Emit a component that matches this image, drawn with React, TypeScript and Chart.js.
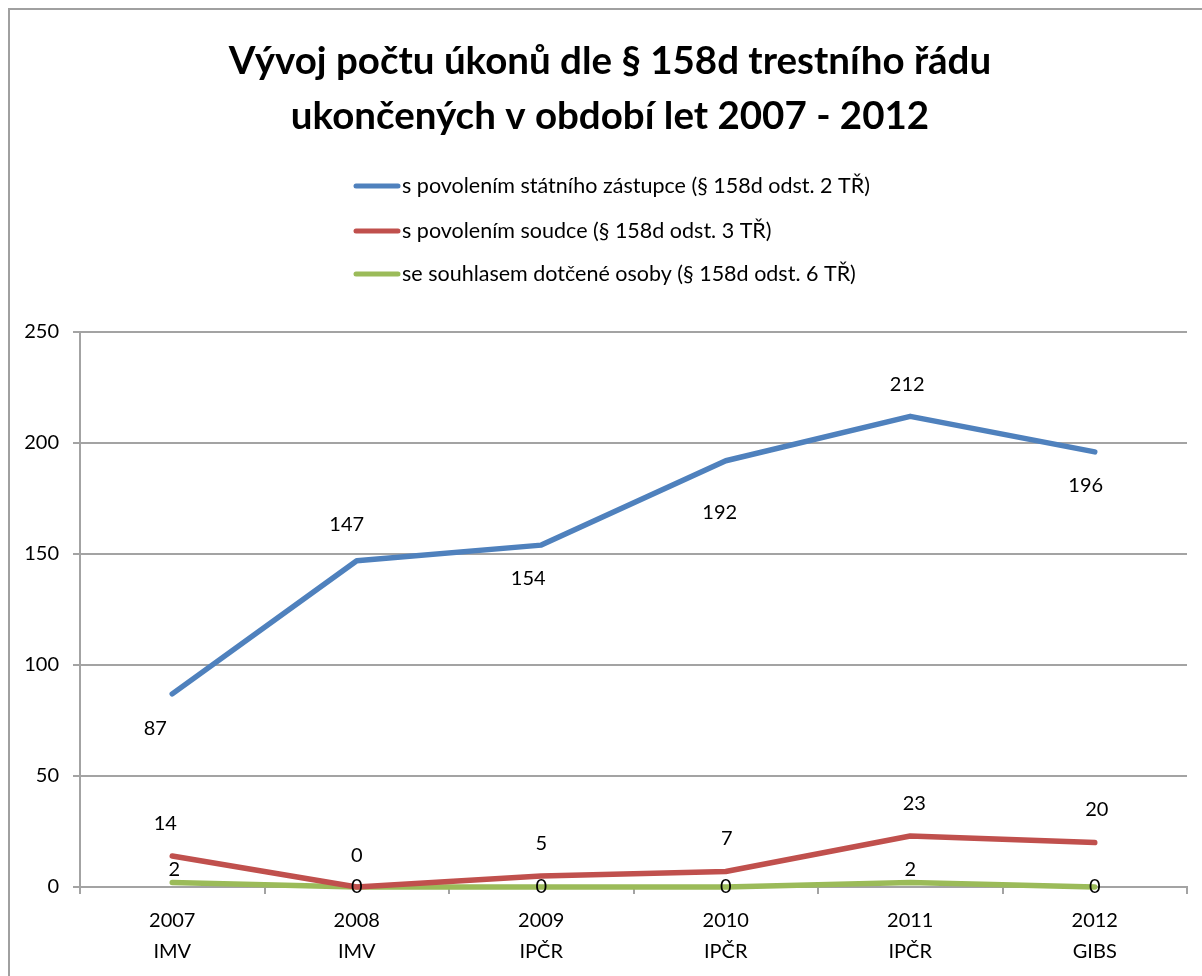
import { useEffect, useRef } from 'react';
import { Chart, registerables } from 'chart.js';

Chart.register(...registerables);

// ---- data ----
const years = ['2007', '2008', '2009', '2010', '2011', '2012'];
const units = ['IMV', 'IMV', 'IPČR', 'IPČR', 'IPČR', 'GIBS'];
const zastupce = [87, 147, 154, 192, 212, 196];
const soudce = [14, 0, 5, 7, 23, 20];
const souhlas = [2, 0, 0, 0, 2, 0];
const seriesNames = [
  's povolením státního zástupce (§ 158d odst. 2 TŘ)',
  's povolením soudce (§ 158d odst. 3 TŘ)',
  'se souhlasem dotčené osoby (§ 158d odst. 6 TŘ)',
];
const titleLines = ['Vývoj počtu úkonů dle § 158d trestního řádu', 'ukončených v období let 2007 - 2012'];
const yMin = 0;
const yMax = 250;
const yStep = 50;

// ---- styles ----
const colors = ['#4f81bd', '#c0504d', '#9bbb59'];
const FONT = 'Lato, "Open Sans", sans-serif';
const GRID = '#a3a3a3';
const CX = 600;
// data-label offsets [dx, dy] relative to the point (px)
const labelOffsets: number[][][] = [
  [[-17, 35], [-10, -36], [-13, 33], [-6, 52], [-3, -32], [-9, 34]],
  [[-7, -32], [0, -31], [0, -32], [1, -33], [4, -32], [2, -33]],
  [[2, -13], [0, 0], [0, 0], [0, 0], [0, -13], [0, 0]],
];

const overlay = {
  id: 'overlay',
  afterDatasetsDraw(chart: any) {
    const ctx = chart.ctx as CanvasRenderingContext2D;
    ctx.save();
    ctx.fillStyle = '#000';
    ctx.textAlign = 'center';
    ctx.textBaseline = 'middle';
    ctx.font = `20px ${FONT}`;
    chart.data.datasets.forEach((ds: any, di: number) => {
      const meta = chart.getDatasetMeta(di);
      meta.data.forEach((pt: any, i: number) => {
        const off = labelOffsets[di][i];
        ctx.fillText(String(ds.data[i]), pt.x + off[0], pt.y + off[1]);
      });
    });
    ctx.restore();
  },
  afterDraw(chart: any) {
    const ctx = chart.ctx as CanvasRenderingContext2D;
    ctx.save();
    ctx.fillStyle = '#000';
    ctx.textAlign = 'center';
    ctx.textBaseline = 'middle';
    ctx.font = `bold 38.5px ${FONT}`;
    ctx.fillText(titleLines[0], CX, 52);
    ctx.fillText(titleLines[1], CX, 107);

    ctx.font = `21.5px ${FONT}`;
    ctx.textAlign = 'left';
    const dss = chart.data.datasets;
    const maxW = Math.max(...dss.map((d: any) => ctx.measureText(d.label).width));
    const sample = 46;
    const gap = 2;
    const x0 = CX + 2 - (sample + gap + maxW) / 2;
    const rowYs = [176, 221, 264];
    dss.forEach((d: any, i: number) => {
      const y = rowYs[i];
      ctx.strokeStyle = d.borderColor;
      ctx.lineWidth = 5;
      ctx.lineCap = 'round';
      ctx.beginPath();
      ctx.moveTo(x0 + 2, y);
      ctx.lineTo(x0 + sample - 2, y);
      ctx.stroke();
      ctx.fillStyle = '#000';
      ctx.fillText(d.label, x0 + sample + gap, y);
    });
    ctx.restore();
  },
};

export default function App() {
  const ref = useRef<HTMLCanvasElement>(null);
  useEffect(() => {
    if (!ref.current) return;
    const seriesData = [zastupce, soudce, souhlas];
    const chart = new Chart(ref.current, {
      type: 'line',
      data: {
        labels: years.map((y, i) => [y, units[i]]),
        datasets: seriesData.map((d, i) => ({
          label: seriesNames[i],
          data: d,
          borderColor: colors[i],
          backgroundColor: colors[i],
          borderWidth: 5.5,
          pointRadius: 0,
          pointHoverRadius: 0,
          tension: 0,
          borderCapStyle: 'round' as const,
          borderJoinStyle: 'round' as const,
          clip: false as any,
        })),
      },
      options: {
        responsive: false,
        animation: false,
        devicePixelRatio: 1,
        layout: { padding: { top: 322, right: 25, left: 0, bottom: 0 } },
        plugins: {
          legend: { display: false },
          title: { display: false },
          tooltip: { enabled: false },
        },
        scales: {
          x: {
            offset: true,
            grid: {
              offset: true,
              drawOnChartArea: false,
              drawTicks: true,
              tickLength: 7,
              color: GRID,
              lineWidth: 2,
            },
            border: { display: true, color: GRID, width: 2 },
            ticks: {
              color: '#000',
              font: { family: FONT, size: 20, lineHeight: 1.55 },
              padding: 11,
              maxRotation: 0,
              autoSkip: false,
            },
            afterFit: (s: any) => {
              s.height = 89;
            },
          },
          y: {
            min: yMin,
            max: yMax,
            ticks: {
              stepSize: yStep,
              color: '#000',
              font: { family: FONT, size: 20 },
              padding: 14,
            },
            grid: { color: GRID, lineWidth: 2, tickLength: 7 },
            border: { display: true, color: GRID, width: 2 },
            afterFit: (s: any) => {
              s.width = 70;
            },
          },
        },
      },
      plugins: [overlay],
    });
    return () => chart.destroy();
  }, []);

  return (
    <div style={{ position: 'absolute', left: 0, top: 0, width: 1202, height: 976, overflow: 'hidden', background: '#fff' }}>
      <div
        style={{
          position: 'absolute',
          left: 8,
          top: 8,
          width: 1204,
          height: 980,
          borderLeft: '2px solid #a0a0a0',
          borderTop: '2px solid #a0a0a0',
          background: '#fff',
        }}
      >
        <canvas ref={ref} width={1202} height={966} style={{ display: 'block' }} />
      </div>
    </div>
  );
}
